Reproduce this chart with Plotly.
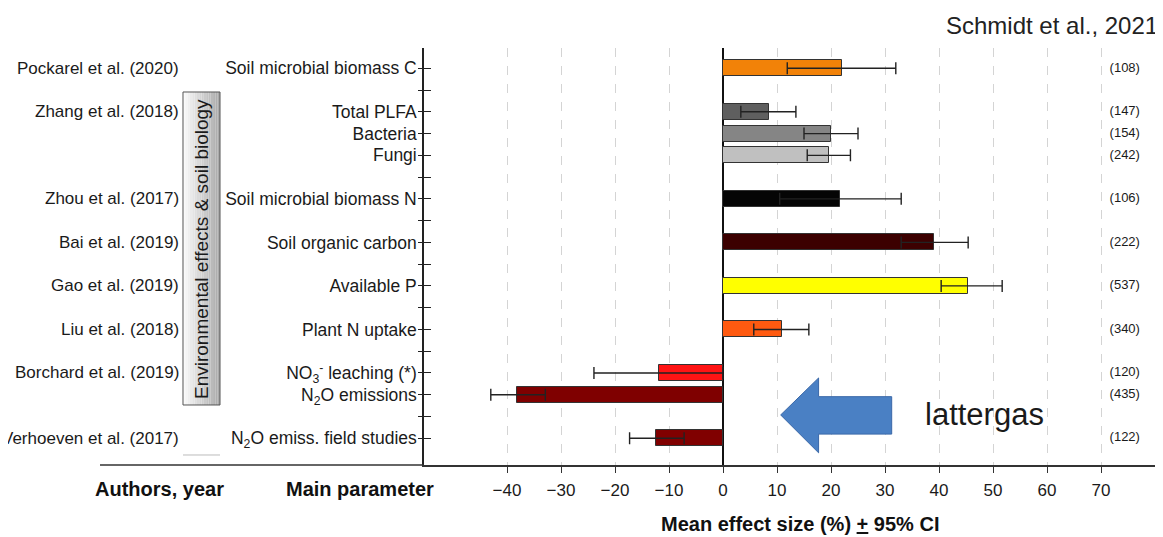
import plotly.graph_objects as go

# ---------------- data ----------------
row_labels = [
    "Soil microbial biomass C", "", "Total PLFA", "Bacteria", "Fungi", "",
    "Soil microbial biomass N", "", "Soil organic carbon", "", "Available P", "",
    "Plant N uptake", "", "NO<sub>3</sub><sup>-</sup> leaching (*)",
    "N<sub>2</sub>O emissions", "", "N<sub>2</sub>O emiss. field studies",
]
bar_rows = [0, 2, 3, 4, 6, 8, 10, 12, 14, 15, 17]
means = [22.0, 8.5, 20.0, 19.6, 21.7, 39.1, 45.4, 10.9, -11.9, -38.1, -12.4]
ci_low = [11.9, 3.3, 15.0, 15.6, 10.5, 33.0, 40.4, 5.7, -23.9, -43.0, -17.3]
ci_high = [32.0, 13.5, 25.0, 23.6, 33.0, 45.4, 51.7, 15.9, 0.0, -32.9, -7.2]
counts = [108, 147, 154, 242, 106, 222, 537, 340, 120, 435, 122]
bar_colors = ["#F28208", "#5F5F5F", "#858585", "#C0C0C0", "#050505", "#3C0000",
              "#FFFF00", "#FF5A10", "#FF1414", "#7F0000", "#800000"]

authors = ["Pockarel et al. (2020)", "Zhang et al. (2018)", "Zhou et al. (2017)",
           "Bai et al. (2019)", "Gao et al. (2019)", "Liu et al. (2018)",
           "Borchard et al. (2019)", "Verhoeven et al. (2017)"]
author_rows = [0, 2, 6, 8, 10, 12, 14, 17]

x_ticks = [-40, -30, -20, -10, 0, 10, 20, 30, 40, 50, 60, 70, 80]
x_range = [-55.37, 80.37]
y_range = [18.23, -0.933]
count_x = 74.4

FONT = "Liberation Sans, Arial, sans-serif"
TXT = "#1a1a1a"

fig = go.Figure()

err_plus = [h - m for h, m in zip(ci_high, means)]
err_minus = [m - l for m, l in zip(means, ci_low)]

fig.add_trace(go.Bar(
    x=means, y=bar_rows, orientation="h", width=0.74,
    marker=dict(color=bar_colors, line=dict(color="#333333", width=1)),
    error_x=dict(type="data", symmetric=False, array=err_plus, arrayminus=err_minus,
                 color="#222222", thickness=1.4, width=6),
    showlegend=False, hoverinfo="skip",
))

fig.add_trace(go.Scatter(
    x=[count_x] * len(counts), y=bar_rows, mode="text",
    text=[f"({c})" for c in counts],
    textfont=dict(size=13, color=TXT, family=FONT),
    showlegend=False, hoverinfo="skip",
))

# invisible trace for the overlay y axis (inner half of the tick marks)
fig.add_trace(go.Scatter(x=[0], y=[0], yaxis="y2", mode="markers",
                         marker=dict(opacity=0), showlegend=False, hoverinfo="skip"))

# The page body has an 8px margin, so the figure is 8px smaller than the window
fig.update_layout(
    width=1155, height=529,
    margin=dict(l=416, r=6, t=40, b=72),
    paper_bgcolor="white", plot_bgcolor="white",
    font=dict(family=FONT, color=TXT),
    bargap=0,
    xaxis=dict(
        range=x_range, tickvals=x_ticks, ticks="outside", ticklen=6, tickcolor="#333",
        tickfont=dict(size=17, color=TXT), ticklabelstandoff=3,
        showgrid=True, gridcolor="#D4D4D4", griddash="dash", gridwidth=1.2,
        zeroline=True, zerolinecolor="#111", zerolinewidth=1.5,
        showline=True, linecolor="#333", linewidth=1.5,
    ),
    yaxis=dict(
        range=y_range, tickvals=list(range(len(row_labels))), ticktext=row_labels,
        ticks="outside", ticklen=4, tickcolor="#222", tickwidth=1.2,
        tickfont=dict(size=17.5, color=TXT), showgrid=False, zeroline=False,
        showline=True, linecolor="#222", linewidth=1.5, ticklabelstandoff=-2,
    ),
    yaxis2=dict(
        range=y_range, overlaying="y", anchor="x", side="left",
        tickvals=list(range(len(row_labels))), ticks="inside", ticklen=7,
        tickcolor="#222", tickwidth=1.2, showticklabels=False, showgrid=False,
        zeroline=False, showline=False,
    ),
)

# ---------- author labels ----------
for a, r in zip(authors, author_rows):
    fig.add_annotation(text=a, xref="paper", yref="y", x=-0.3315, y=r,
                       xanchor="right", yanchor="middle", showarrow=False,
                       font=dict(size=17, color=TXT, family=FONT))

# ---------- gray category box with gradient ----------
bx0, bx1, by0, by1 = -0.3288, -0.2783, 0.1439, 0.8945
n_strips = 16
for i in range(n_strips):
    t = i / (n_strips - 1)
    g = int(250 - t * (250 - 170))
    fig.add_shape(type="rect", xref="paper", yref="paper",
                  x0=bx0 + (bx1 - bx0) * i / n_strips,
                  x1=bx0 + (bx1 - bx0) * (i + 1) / n_strips,
                  y0=by0, y1=by1, line=dict(width=0),
                  fillcolor=f"rgb({g},{g},{g})", layer="below")
fig.add_shape(type="rect", xref="paper", yref="paper", x0=bx0, x1=bx1, y0=by0, y1=by1,
              line=dict(color="#555", width=1), fillcolor="rgba(0,0,0,0)")
fig.add_annotation(text="Environmental effects & soil biology", xref="paper", yref="paper",
                   x=(bx0 + bx1) / 2, y=(by0 + by1) / 2, textangle=-90, showarrow=False,
                   xanchor="center", yanchor="middle",
                   font=dict(size=19, color=TXT, family=FONT))
fig.add_shape(type="line", xref="paper", yref="paper", x0=bx0, x1=bx1, y0=0.024, y1=0.024,
              line=dict(color="#BBBBBB", width=1))

# bottom line extension and right border
fig.add_shape(type="line", xref="paper", yref="paper", x0=-0.442, x1=0, y0=0, y1=0,
              line=dict(color="#333", width=1.5))
fig.add_shape(type="line", xref="paper", yref="paper", x0=1, x1=1, y0=0, y1=1,
              line=dict(color="#333", width=1.5))

# ---------- blue arrow ----------
tip_x, head_x, shaft_end = 10.68, 17.7, 31.24
tip_y, head_top, head_bot, shaft_top, shaft_bot = 15.93, 14.23, 17.67, 15.09, 16.81
path = (f"M {tip_x},{tip_y} L {head_x},{head_top} L {head_x},{shaft_top} "
        f"L {shaft_end},{shaft_top} L {shaft_end},{shaft_bot} L {head_x},{shaft_bot} "
        f"L {head_x},{head_bot} Z")
fig.add_shape(type="path", xref="x", yref="y", path=path,
              fillcolor="#4A80C4", line=dict(color="#3A68A8", width=1))
fig.add_annotation(text="lattergas", xref="x", yref="y", x=37.0, y=15.93,
                   xanchor="left", yanchor="middle", showarrow=False,
                   font=dict(size=31, color=TXT, family=FONT))

# ---------- titles ----------
fig.add_annotation(text="Schmidt et al., 2021", xref="paper", yref="paper",
                   x=1.004, y=1.055, xanchor="right", yanchor="middle", showarrow=False,
                   font=dict(size=24, color="#222", family=FONT))
fig.add_annotation(text="<b>Authors, year</b>", xref="paper", yref="paper",
                   x=-0.3615, y=-0.0576, xanchor="center", yanchor="middle", showarrow=False,
                   font=dict(size=20, color="#111", family=FONT))
fig.add_annotation(text="<b>Main parameter</b>", xref="paper", yref="paper",
                   x=-0.0873, y=-0.0576, xanchor="center", yanchor="middle", showarrow=False,
                   font=dict(size=20, color="#111", family=FONT))
fig.add_annotation(text="<b>Mean effect size (%) <u>+</u> 95% CI</b>", xref="paper", yref="paper",
                   x=0.513, y=-0.1415, xanchor="center", yanchor="middle", showarrow=False,
                   font=dict(size=20, color="#111", family=FONT))

fig.write_html("out.html")
